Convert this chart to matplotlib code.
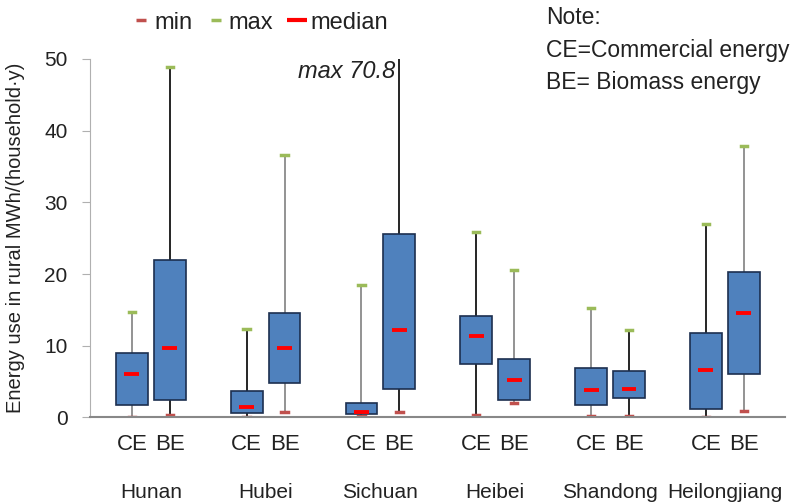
import matplotlib
matplotlib.use("Agg")
import matplotlib.pyplot as plt
from matplotlib.lines import Line2D

# data (MWh per household per year)
regions = ["Hunan", "Hubei", "Sichuan", "Heibei", "Shandong", "Heilongjiang"]
kinds = ["CE", "BE"]
v_min = [0.1, 0.4, 0.1, 0.8, 0.2, 0.8, 0.35, 2.0, 0.2, 0.2, 0.1, 0.95]
v_q1 = [1.7, 2.4, 0.6, 4.85, 0.5, 4.0, 7.4, 2.5, 1.7, 2.7, 1.2, 6.1]
v_med = [6.1, 9.7, 1.5, 9.7, 0.8, 12.2, 11.3, 5.2, 3.9, 4.0, 6.6, 14.6]
v_q3 = [9.0, 21.9, 3.65, 14.6, 2.0, 25.6, 14.2, 8.1, 6.85, 6.5, 11.8, 20.3]
v_max = [14.7, 48.8, 12.3, 36.6, 18.5, 70.8, 25.8, 20.5, 15.3, 12.2, 27.0, 37.8]

plt.rcParams['font.family'] = ['Liberation Sans', 'DejaVu Sans']
txt = "#222222"

fig = plt.figure(figsize=(8.03, 5.03), dpi=100)
ax = fig.add_axes([0.112, 0.170, 0.865, 0.713])

positions = []
for i in range(len(regions)):
    positions += [i - 0.165, i + 0.165]

stats = []
for k in range(len(positions)):
    stats.append(dict(whislo=v_min[k], q1=v_q1[k], med=v_med[k],
                      q3=v_q3[k], whishi=v_max[k], fliers=[]))

art = ax.bxp(stats, positions=positions, widths=0.277, patch_artist=True,
             showfliers=False, capwidths=0.055,
             boxprops=dict(facecolor="#4f81bd", edgecolor="#1c2f4f", linewidth=1.2),
             medianprops=dict(visible=False))

# whiskers alternate grey / black in the original
wcol = ["#808080", "#000000"]
for k in range(len(positions)):
    c = wcol[(k + (k // 2)) % 2]
    for w in art["whiskers"][2 * k:2 * k + 2]:
        w.set_color(c)
        w.set_linewidth(1.2)
    lo, hi = art["caps"][2 * k], art["caps"][2 * k + 1]
    lo.set_color("#c0504d")
    lo.set_linewidth(2.5)
    hi.set_color("#9bbb59")
    hi.set_linewidth(2.5)
    art["boxes"][k].set_zorder(3)

ax.hlines(v_med, [p - 0.065 for p in positions], [p + 0.065 for p in positions],
          color="#ff0000", linewidth=2.8, zorder=4)

ax.set_xlim(-0.53, 5.52)
ax.set_ylim(0, 50)
ax.set_yticks(range(0, 51, 10))
ax.tick_params(axis="y", labelsize=15, length=6, width=0.8, color="#b0b0b0",
               pad=10, labelcolor=txt)
ax.set_xticks(positions)
ax.set_xticklabels(kinds * len(regions), fontsize=16)
ax.tick_params(axis="x", length=0, pad=12, labelcolor=txt)
for i, r in enumerate(regions):
    ax.text(i, -0.21, r, transform=ax.get_xaxis_transform(), ha="center", va="center",
            fontsize=15, color=txt)

for s in ["right", "top"]:
    ax.spines[s].set_visible(False)
ax.spines["left"].set_color("#b0b0b0")
ax.spines["left"].set_linewidth(0.8)
ax.spines["bottom"].set_color("#888888")
ax.spines["bottom"].set_linewidth(1.5)

ax.set_ylabel("Energy use in rural MWh/(household·y)", fontsize=14.5, color=txt)
ax.yaxis.set_label_coords(-0.094, 0.50)

ax.text(2.13, 48.3, "max 70.8", fontsize=17, style="italic", ha="right", va="center", color=txt)

handles = [Line2D([], [], linestyle="none", marker="_", markersize=7, markeredgewidth=2.5, color="#c0504d"),
           Line2D([], [], linestyle="none", marker="_", markersize=7, markeredgewidth=2.5, color="#9bbb59"),
           Line2D([], [], linestyle="none", marker="_", markersize=14, markeredgewidth=3, color="#ff0000")]
leg = fig.legend(handles, ["min", "max", "median"], ncol=3, frameon=False,
                 loc="center left", bbox_to_anchor=(0.167, 0.955), fontsize=17,
                 handlelength=0.6, handletextpad=0.25, columnspacing=0.7,
                 borderpad=0, borderaxespad=0)
for t in leg.get_texts():
    t.set_color(txt)

fig.text(546 / 803, 1 - 18 / 503, "Note:", fontsize=16.5, va="center", color=txt)
fig.text(546 / 803, 1 - 51 / 503, "CE=Commercial energy", fontsize=16.5, va="center", color=txt)
fig.text(546 / 803, 1 - 83 / 503, "BE= Biomass energy", fontsize=16.5, va="center", color=txt)

fig.savefig("out.png", dpi=100)
